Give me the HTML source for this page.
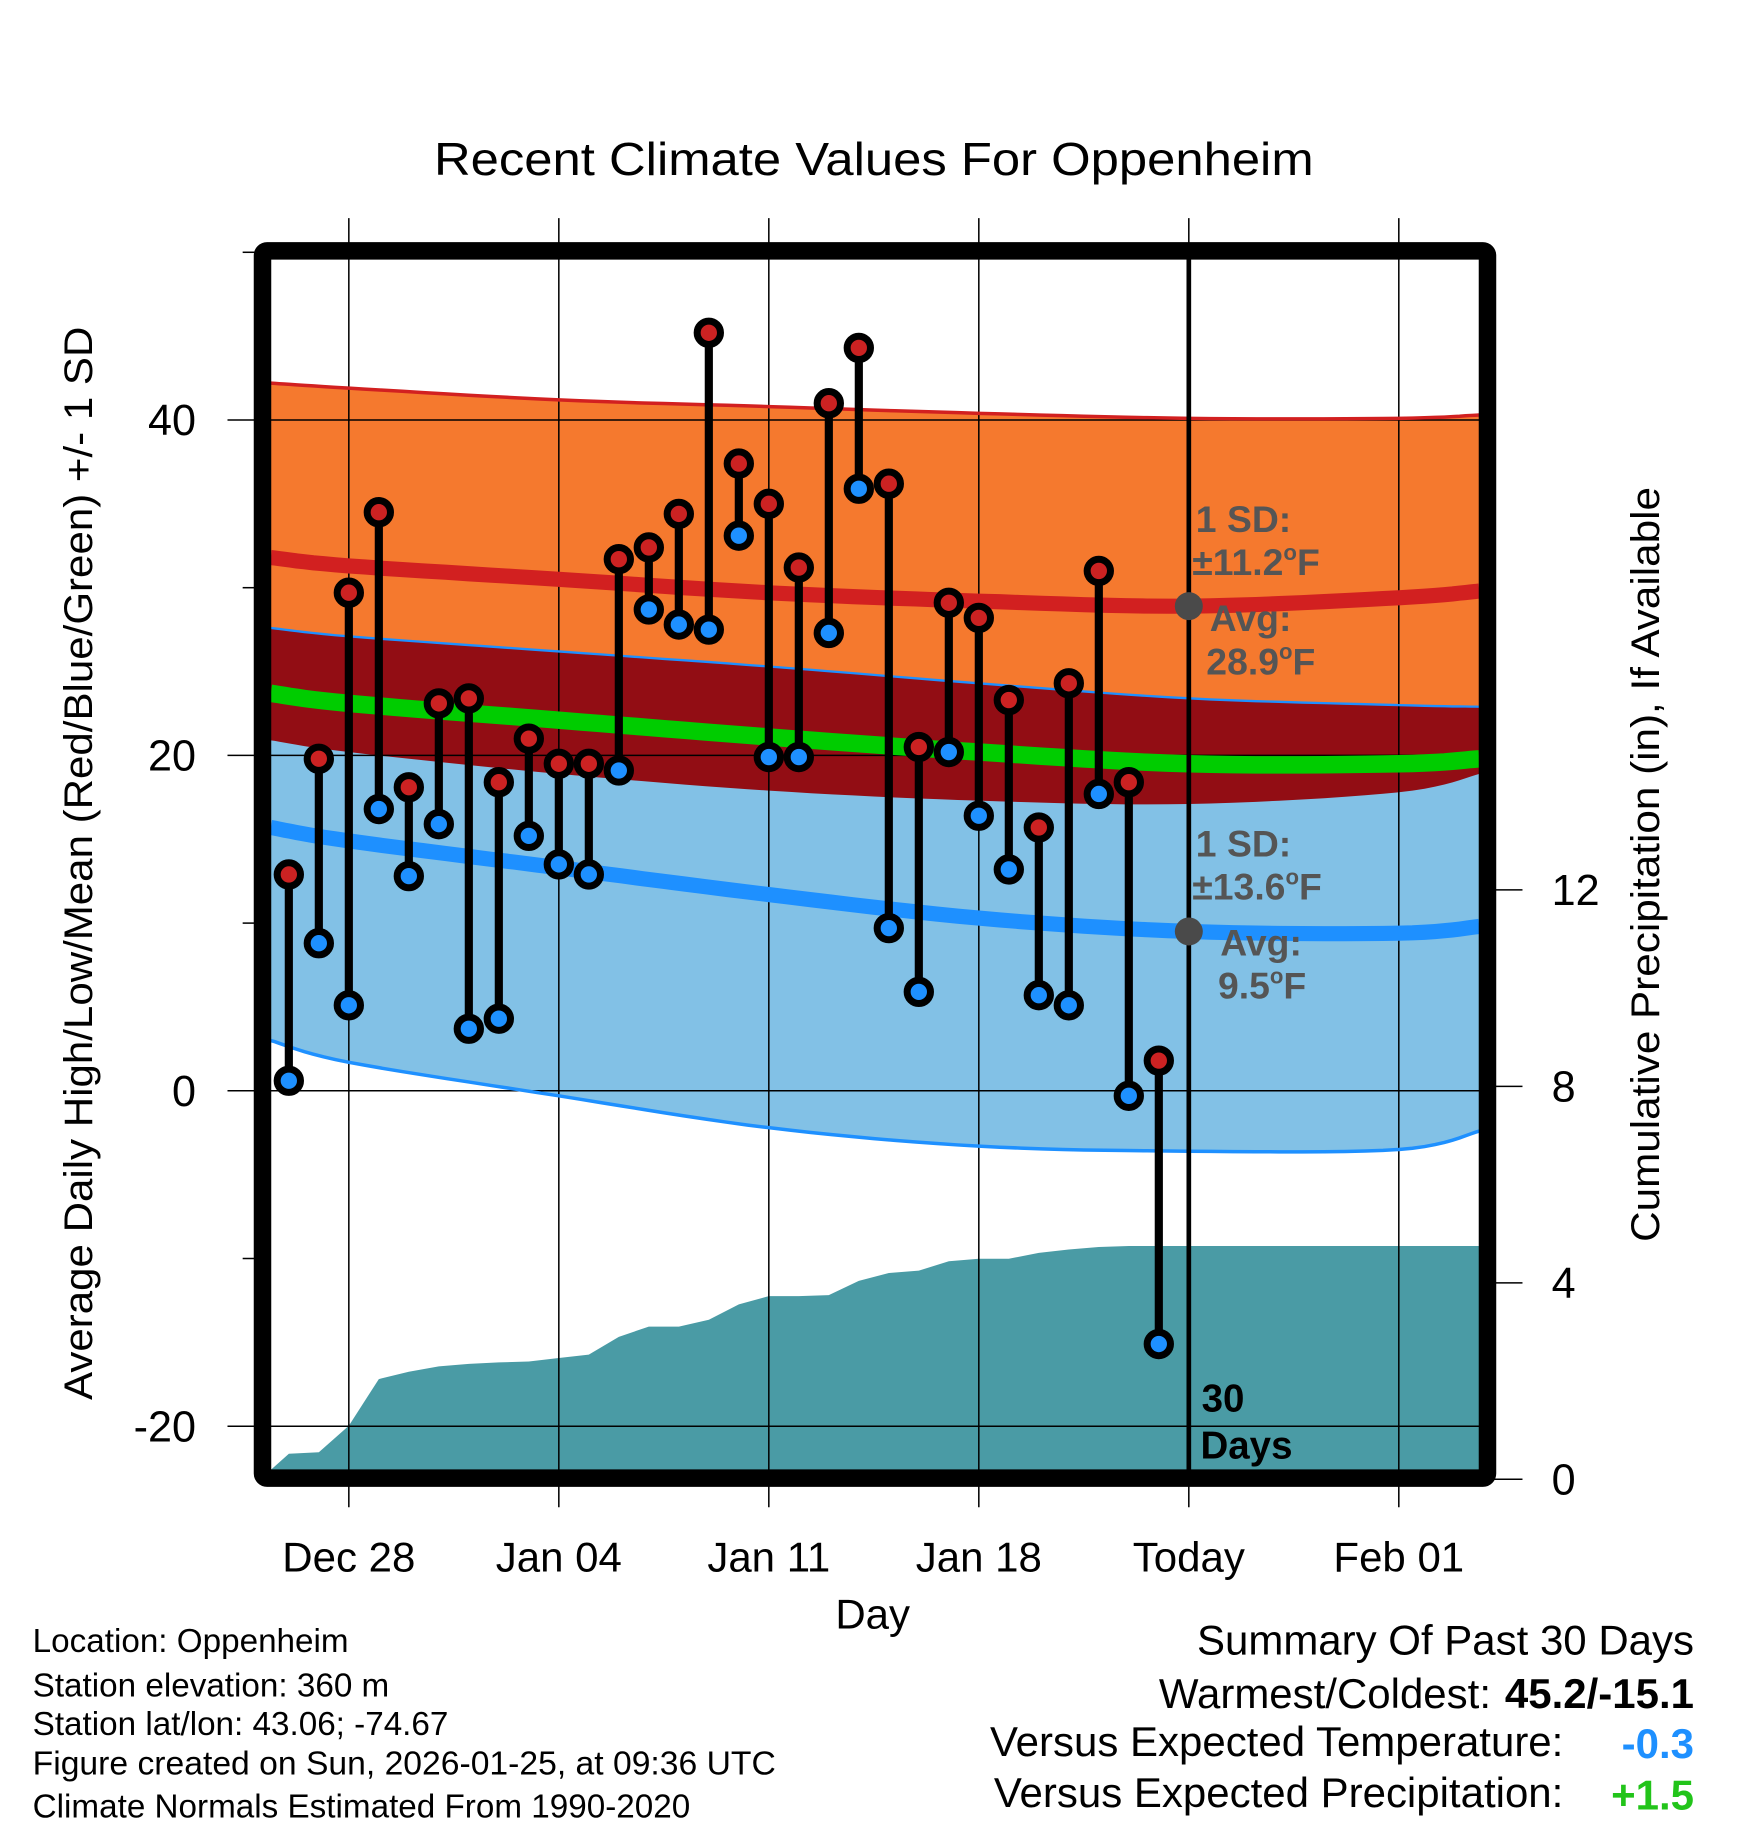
<!DOCTYPE html>
<html><head><meta charset="utf-8"><style>
html,body{margin:0;padding:0;background:#fff}
svg{display:block;font-family:"Liberation Sans",sans-serif}
</style></head><body>
<svg id="chart" width="1748" height="1828" viewBox="0 0 1498.3 1566.9" preserveAspectRatio="none" xmlns="http://www.w3.org/2000/svg">
<g id="bands"></g>
<g id="precip"></g>
<g id="grid"></g>
<g id="lines"></g>
<g id="marks"></g>
<g id="frame"></g>
<g id="labels"></g>
</svg>
<script>
const days=[-2,-1,0,1,2,3,4,5,6,7,8,9,10,11,12,13,14,15,16,17,18,19,20,21,22,23,24,25,26,27];
const highs=[12.9,19.8,29.7,34.5,18.1,23.1,23.4,18.4,21.0,19.5,19.5,31.7,32.4,34.4,45.2,37.4,35.0,31.2,41.0,44.3,36.2,20.5,29.1,28.2,23.3,15.7,24.3,31.0,18.4,1.8];
const lows=[0.6,8.8,5.1,16.8,12.8,15.9,3.7,4.3,15.2,13.5,12.9,19.1,28.7,27.8,27.5,33.1,19.9,19.9,27.3,35.9,9.7,5.9,20.2,16.4,13.2,5.7,5.1,17.7,-0.3,-15.1];
const precip=[0.52,0.55,1.09,2.04,2.19,2.30,2.35,2.38,2.40,2.47,2.54,2.90,3.11,3.11,3.25,3.56,3.73,3.73,3.75,4.04,4.20,4.25,4.44,4.49,4.49,4.61,4.68,4.73,4.75,4.75];
const normDays=[-2.6,0,7,14,21,28,35,37.7];
const upperSD=[42.2,41.9,41.2,40.8,40.4,40.1,40.1,40.3];
const avgHigh=[31.8,31.3,30.5,29.7,29.2,28.9,29.4,29.8];
const lowPlusSD=[27.6,27.1,26.2,25.3,24.3,23.4,23.0,22.9];
const meanT=[23.7,23.1,22.1,21.1,20.2,19.5,19.5,19.8];
const highMinusSD=[20.9,20.2,18.9,17.9,17.3,17.1,17.8,18.9];
const avgLow=[15.7,14.9,13.3,11.7,10.3,9.5,9.4,9.8];
const lowerSD=[3.0,1.7,-0.3,-2.2,-3.3,-3.6,-3.5,-2.4];
const yTicks=[40,20,0,-20];
const yMinor=[50,30,10,-10];
const pTicks=[0,4,8,12];
const xTickDays=[0,7,14,21,28,35];
const xTickLabels=["Dec 28","Jan 04","Jan 11","Jan 18","Today","Feb 01"];

const NS="http://www.w3.org/2000/svg";
const X=d=>299+d*25.714;
const Y=v=>935-v*14.375;
const P=v=>1268-v*42.1;
const L=232,R=1268,T=222,B=1260;
function mk(parent,tag,attrs,text){const e=document.createElementNS(NS,tag);for(const k in attrs)e.setAttribute(k,attrs[k]);if(text!==undefined)e.textContent=text;document.getElementById(parent).appendChild(e);return e;}
function smooth(a){
  const p=normDays.map((d,i)=>[X(d),Y(a[i])]);
  const out=[];
  for(let i=0;i<p.length-1;i++){
    const p0=p[Math.max(0,i-1)],p1=p[i],p2=p[i+1],p3=p[Math.min(p.length-1,i+2)];
    for(let s=0;s<=10;s++){const t=s/10;if(i>0&&s===0)continue;
      const t2=t*t,t3=t2*t;
      const f=(a,b,c,d)=>0.5*((2*b)+(-a+c)*t+(2*a-5*b+4*c-d)*t2+(-a+3*b-3*c+d)*t3);
      let x=f(p0[0],p1[0],p2[0],p3[0]);x=Math.max(L,Math.min(R,x));
      out.push(x.toFixed(1)+","+f(p0[1],p1[1],p2[1],p3[1]).toFixed(1));}
  }
  return out;
}
function band(top,bot,fill,name){const p=smooth(top).concat(smooth(bot).reverse()).join(" ");const e=mk("bands","polygon",{points:p,fill:fill});

}
band(upperSD,highMinusSD,"#f5792e","high-sd-band");
band(lowPlusSD,lowerSD,"#82c1e6","low-sd-band");
band(lowPlusSD,highMinusSD,"#920d14","overlap-band");
let pp=[L+","+B];
days.forEach((d,i)=>pp.push(X(d).toFixed(1)+","+P(precip[i]).toFixed(1)));
pp.push(R+","+P(precip[precip.length-1]).toFixed(1));pp.push(R+","+B);
const pa=mk("precip","polygon",{points:pp.join(" "),fill:"#4a9ba5"});


yTicks.forEach(v=>{mk("grid","line",{x1:195,x2:R,y1:Y(v),y2:Y(v),stroke:"#000","stroke-width":1.3});
const t=mk("labels","text",{x:168,y:Y(v)+13,"text-anchor":"end","font-size":37},v);

});
yMinor.forEach(v=>mk("grid","line",{x1:208,x2:220,y1:Y(v),y2:Y(v),stroke:"#000","stroke-width":1.3}));
pTicks.forEach(v=>{mk("grid","line",{x1:1280,x2:1305,y1:P(v),y2:P(v),stroke:"#000","stroke-width":1.3});
const t=mk("labels","text",{x:1330,y:P(v)+13,"font-size":37},v);

});
xTickDays.forEach((d,i)=>{mk("grid","line",{x1:X(d),x2:X(d),y1:187,y2:1292,stroke:"#000","stroke-width":1.3});
const t=mk("labels","text",{x:X(d),y:1347,"text-anchor":"middle","font-size":36},xTickLabels[i]);

});
function line(a,color,w,name){const e=mk("lines","polyline",{points:smooth(a).join(" "),fill:"none",stroke:color,"stroke-width":w});

}
line(upperSD,"#d22020",3,"high-plus-sd-line");
line(avgHigh,"#d22020",13,"avg-high-line");
line(lowPlusSD,"#1e90ff",2,"low-plus-sd-line");
line(meanT,"#00cc00",15,"mean-line");
line(avgLow,"#1e90ff",13,"avg-low-line");
line(lowerSD,"#1e90ff",3,"low-minus-sd-line");
mk("lines","line",{x1:1019,x2:1019,y1:T,y2:B,stroke:"#000","stroke-width":4});
mk("lines","circle",{cx:1019,cy:Y(avgHigh[5]),r:12,fill:"#4a4a4a"});
mk("lines","circle",{cx:1019,cy:Y(avgLow[5]),r:12,fill:"#4a4a4a"});
days.forEach((d,i)=>{const x=X(d);
const s=mk("marks","line",{x1:x,x2:x,y1:Y(highs[i]),y2:Y(lows[i]),stroke:"#000","stroke-width":7});


const h=mk("marks","circle",{cx:x,cy:Y(highs[i]),r:10,fill:"#cc2222",stroke:"#000","stroke-width":6});


const l=mk("marks","circle",{cx:x,cy:Y(lows[i]),r:10,fill:"#1e90ff",stroke:"#000","stroke-width":6});

});
mk("frame","rect",{x:225,y:215,width:1050,height:1052,fill:"none",stroke:"#000","stroke-width":15,rx:4});
</script>
<script>
(function(){
const svg=document.getElementById("labels");
svg.insertAdjacentHTML("beforeend",`
<text x="749" y="150" text-anchor="middle" font-size="40" textLength="754" lengthAdjust="spacingAndGlyphs">Recent Climate Values For Oppenheim</text>
<text x="748" y="1396" text-anchor="middle" font-size="36">Day</text>
<text transform="translate(79,740) rotate(-90)" text-anchor="middle" font-size="34" textLength="920" lengthAdjust="spacingAndGlyphs">Average Daily High/Low/Mean (Red/Blue/Green) +/- 1 SD</text>
<text transform="translate(1422,741) rotate(-90)" text-anchor="middle" font-size="34" textLength="647" lengthAdjust="spacingAndGlyphs">Cumulative Precipitation (in), If Available</text>
<g font-weight="bold" fill="#555" font-size="32">
<text x="1025" y="456">1 SD:</text>
<text x="1022" y="493">±11.2<tspan font-size="19" dy="-13">o</tspan><tspan dy="13">F</tspan></text>
<text x="1037" y="541">Avg:</text>
<text x="1034" y="578">28.9<tspan font-size="19" dy="-13">o</tspan><tspan dy="13">F</tspan></text>
</g>
<g font-weight="bold" fill="#555" font-size="32">
<text x="1025" y="734">1 SD:</text>
<text x="1022" y="771">±13.6<tspan font-size="19" dy="-13">o</tspan><tspan dy="13">F</tspan></text>
<text x="1046" y="819">Avg:</text>
<text x="1044" y="856">9.5<tspan font-size="19" dy="-13">o</tspan><tspan dy="13">F</tspan></text>
</g>
<g font-weight="bold" font-size="33">
<text x="1030" y="1210">30</text><text x="1029" y="1250">Days</text>
</g>
<g font-size="28.5">
<text x="28" y="1416">Location: Oppenheim</text>
<text x="28" y="1454">Station elevation: 360 m</text>
<text x="28" y="1487">Station lat/lon: 43.06; -74.67</text>
<text x="28" y="1521" textLength="637" lengthAdjust="spacingAndGlyphs">Figure created on Sun, 2026-01-25, at 09:36 UTC</text>
<text x="28" y="1558">Climate Normals Estimated From 1990-2020</text>
</g>
<g font-size="36">
<text x="1452" y="1418" text-anchor="end">Summary Of Past 30 Days</text>
<text x="1278" y="1464" text-anchor="end">Warmest/Coldest:</text>
<text x="1452" y="1464" text-anchor="end" font-weight="bold">45.2/-15.1</text>
<text x="1340" y="1505" text-anchor="end">Versus Expected Temperature:</text>
<text x="1452" y="1507" text-anchor="end" font-weight="bold" fill="#1e90ff">-0.3</text>
<text x="1340" y="1549" text-anchor="end">Versus Expected Precipitation:</text>
<text x="1452" y="1551" text-anchor="end" font-weight="bold" fill="#22c41a">+1.5</text>
</g>`);
})();
</script>
</body></html>
